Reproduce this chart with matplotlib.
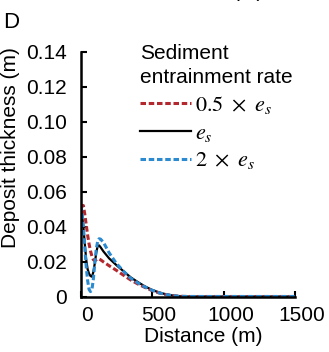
import matplotlib
matplotlib.use("Agg")
import matplotlib.pyplot as plt
import matplotlib.transforms as mtransforms

plt.rcParams["font.family"] = ["Liberation Sans", "DejaVu Sans"]
plt.rcParams["mathtext.fontset"] = "stix"

# distance downstream (m)
distance = [0, 10, 20, 30, 40, 50, 60, 70, 80, 90, 100, 110, 120, 130, 140,
            160, 180, 200, 250, 300, 350, 400, 450, 500, 550, 600, 650, 700,
            750, 800, 900, 1000, 1100, 1200, 1300, 1400, 1500]

# deposit thickness (m) for each entrainment rate
thick_es = [0.050, 0.047, 0.040, 0.030, 0.021, 0.0155, 0.0130, 0.0117, 0.0113,
            0.0140, 0.0190, 0.0250, 0.0288, 0.0292, 0.0282, 0.0258, 0.0238,
            0.0218, 0.0180, 0.0145, 0.0110, 0.0083, 0.0058, 0.0038, 0.0023,
            0.0012, 0.0005, 0.0001, 0, 0, 0, 0, 0, 0, 0, 0, 0]
thick_half = [0.046, 0.052, 0.052, 0.047, 0.041, 0.035, 0.030, 0.026, 0.023,
              0.021, 0.0205, 0.0210, 0.0215, 0.0215, 0.0210, 0.0198, 0.0187,
              0.0176, 0.0150, 0.0122, 0.0095, 0.0072, 0.0052, 0.0034, 0.0020,
              0.0010, 0.0004, 0.0001, 0, 0, 0, 0, 0, 0, 0, 0, 0]
thick_double = [0.052, 0.049, 0.040, 0.028, 0.017, 0.009, 0.004, 0.0028, 0.004,
                0.010, 0.019, 0.027, 0.0315, 0.0330, 0.0328, 0.0310, 0.0280,
                0.0250, 0.0190, 0.0145, 0.0105, 0.0078, 0.0055, 0.0036, 0.0021,
                0.0011, 0.0004, 0.0001, 0, 0, 0, 0, 0, 0, 0, 0, 0]

red = "#B2282E"
blue = "#2B8AD0"

fig = plt.figure(figsize=(3.29, 3.52), dpi=100)
ax = fig.add_axes([80.5 / 329, (352 - 296.5) / 352, 214.5 / 329, 245 / 352])

l_es, = ax.plot(distance, thick_es, color="black", lw=1.6,
                label=r"$e_s$")
l_half, = ax.plot(distance, thick_half, color=red, lw=2.2, dashes=(1.8, 0.9),
                  label=r"$0.5\ \times\ e_s$")
l_dbl, = ax.plot(distance, thick_double, color=blue, lw=2.2, dashes=(1.8, 0.9),
                 label=r"$2\ \times\ e_s$")

ax.set_xlim(0, 1500)
ax.set_ylim(0, 0.14)
ax.set_xticks([0, 500, 1000, 1500])
ax.set_yticks([0, 0.02, 0.04, 0.06, 0.08, 0.10, 0.12, 0.14])
ax.set_yticklabels(["0", "0.02", "0.04", "0.06", "0.08", "0.10", "0.12", "0.14"])

for side in ["top", "right"]:
    ax.spines[side].set_visible(False)
for side in ["left", "bottom"]:
    ax.spines[side].set_linewidth(1.8)

ax.tick_params(direction="in", length=4, width=1.5, labelsize=15)
ax.tick_params(axis="x", pad=7)
ax.tick_params(axis="y", pad=10)

# x tick labels sit a little right of their ticks
shift = mtransforms.ScaledTranslation(7 / 100, 0, fig.dpi_scale_trans)
for lbl in ax.get_xticklabels():
    lbl.set_transform(lbl.get_transform() + shift)

ax.set_xlabel("Distance (m)", fontsize=15)
ax.xaxis.set_label_coords((203 - 80.5) / 214.5, -0.125)
ax.set_ylabel("Deposit thickness (m)", fontsize=15)
ax.yaxis.set_label_coords((20 - 80.5) / 214.5, 0.606)

leg = ax.legend(handles=[l_half, l_es, l_dbl], title="Sediment\nentrainment rate",
                title_fontsize=15, fontsize=16, alignment="left", frameon=False,
                loc="upper left", bbox_to_anchor=(0.277, 1.03), borderaxespad=0,
                borderpad=0, handlelength=2.3, handletextpad=0.2,
                labelspacing=0.3)
leg.get_title().set_linespacing(1.35)

fig.text(3 / 329, 1 - 28 / 352, "D", fontsize=16, va="baseline")
fig.text(248 / 329, 1 + 3 / 352, "(m)", fontsize=15, ha="center", va="baseline")

fig.savefig("out.png", dpi=100)
